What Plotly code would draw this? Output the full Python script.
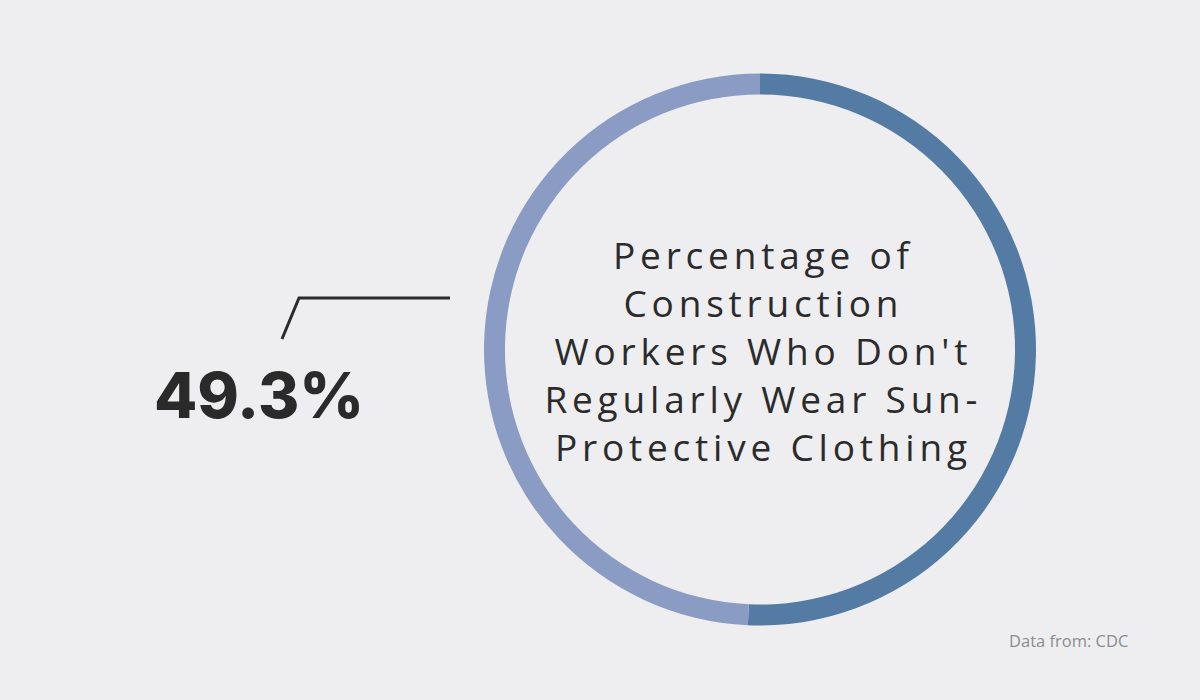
import plotly.graph_objects as go

# Data
labels = ["Wear sun-protective clothing regularly", "Don't regularly wear sun-protective clothing"]
values = [50.7, 49.3]
colors = ["#537ba4", "#8a9bc4"]
headline = "49.3%"
title_lines = ["Percentage of", "Construction", "Workers Who Don't", "Regularly Wear Sun-", "Protective Clothing"]
source = "Data from: CDC"

W, H = 1200, 700
BG = "#eeeef0"

def px(x):
    return x / W

def py(y):
    return 1 - y / H

cx, cy, r = 760, 349.5, 276

fig = go.Figure()
fig.add_trace(go.Pie(
    labels=labels,
    values=values,
    hole=0.924,
    sort=False,
    direction="clockwise",
    rotation=0,
    marker=dict(colors=colors, line=dict(width=0)),
    textinfo="none",
    hoverinfo="none",
    showlegend=False,
    domain=dict(x=[px(cx - r), px(cx + r)], y=[py(cy + r), py(cy - r)]),
))

annotations = [
    dict(
        x=px(763), y=py(350), xref="paper", yref="paper",
        text="<br>".join(title_lines), showarrow=False,
        xanchor="center", yanchor="middle", align="center",
        font=dict(family="Open Sans", size=37, color="#2b2b2b"),
    ),
    dict(
        x=px(152), y=py(395), xref="paper", yref="paper",
        text=headline, showarrow=False, xanchor="left", yanchor="middle",
        font=dict(family="Inter", size=63, color="#2a2a2a", weight=800),
    ),
    dict(
        x=px(1130), y=py(640), xref="paper", yref="paper",
        text=source, showarrow=False, xanchor="right", yanchor="middle",
        font=dict(family="Open Sans", size=16.5, color="#8c8c8c"),
    ),
]

fig.add_shape(
    type="path",
    path=f"M {px(282)} {py(339)} L {px(299)} {py(298)} L {px(450)} {py(298)}",
    xref="paper", yref="paper",
    line=dict(color="#2b2b2b", width=3),
)

fig.update_layout(
    width=W, height=H,
    margin=dict(l=0, r=0, t=0, b=0),
    paper_bgcolor=BG, plot_bgcolor=BG,
    annotations=annotations,
)

post_js = (
    "document.body.style.margin='0';"
    "document.querySelectorAll('.annotation-text').forEach(function(t){"
    "if(t.textContent.indexOf('Percentage')>=0){t.style.letterSpacing='4.8px';}});"
)

fig.write_html("out.html", post_script=post_js, config={"displayModeBar": False})
